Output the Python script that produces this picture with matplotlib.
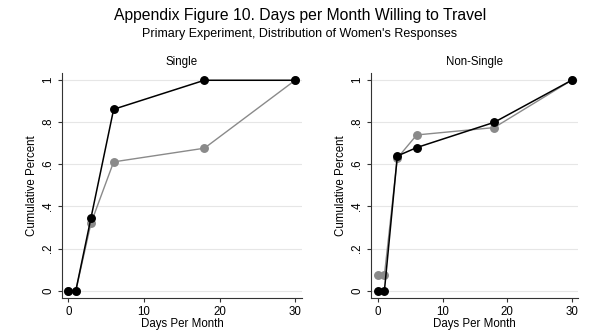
import numpy as np
import matplotlib
matplotlib.use("Agg")
import matplotlib.pyplot as plt

plt.rcParams["font.family"] = ["Liberation Sans", "DejaVu Sans"]

# data
days = [0, 1, 3, 6, 18, 30]

single_black = [0.0, 0.0, 0.345, 0.862, 1.0, 1.0]
single_gray  = [0.0, 0.0, 0.320, 0.612, 0.677, 1.0]

nonsingle_black = [0.0, 0.0, 0.640, 0.680, 0.800, 1.0]
nonsingle_gray  = [0.074, 0.074, 0.630, 0.740, 0.775, 1.0]

yticks = [0, 0.2, 0.4, 0.6, 0.8, 1.0]
ytick_labels = ["0", ".2", ".4", ".6", ".8", "1"]
xticks = [0, 10, 20, 30]

fig = plt.figure(figsize=(6.0, 3.34), dpi=100)

panels = [
    ("Single", single_gray, single_black, [0.1033, 0.1078, 0.400, 0.6727], (-0.83, 30.9)),
    ("Non-Single", nonsingle_gray, nonsingle_black, [0.6183, 0.1078, 0.345, 0.6727], (-1.08, 30.98)),
]

for title, gray, black, pos, xlim in panels:
    ax = fig.add_axes(pos)
    ax.plot(days, gray, color="#8a8a8a", lw=1.0, marker="o", ms=5.4,
            mec="#8a8a8a", mfc="#8a8a8a", zorder=3)
    ax.plot(days, black, color="black", lw=1.1, marker="o", ms=5.4,
            mec="black", mfc="black", zorder=4)
    ax.set_xlim(*xlim)
    ax.set_ylim(-0.035, 1.033)
    ax.set_xticks(xticks)
    ax.set_yticks(yticks)
    ax.set_yticklabels(ytick_labels, rotation=90, va="center")
    ax.grid(axis="y", color="#e6e6e6", lw=0.8)
    ax.set_axisbelow(True)
    for s in ["top", "right"]:
        ax.spines[s].set_visible(False)
    for s in ["left", "bottom"]:
        ax.spines[s].set_color("#333333")
        ax.spines[s].set_linewidth(0.8)
    ax.tick_params(axis="both", labelsize=8.3, length=3.0, width=0.8,
                   color="#333333", pad=2.5)
    ax.set_xlabel("Days Per Month", fontsize=8.3, labelpad=0)
    ax.set_ylabel("Cumulative Percent", fontsize=8.3, labelpad=3)
    ax.set_title(title, fontsize=8.3, pad=6)

fig.text(0.5, 0.955, "Appendix Figure 10. Days per Month Willing to Travel",
         ha="center", va="center", fontsize=11.3)
fig.text(0.5, 0.898, "Primary Experiment, Distribution of Women's Responses",
         ha="center", va="center", fontsize=9)

fig.savefig("out.png", dpi=100, facecolor="white")
